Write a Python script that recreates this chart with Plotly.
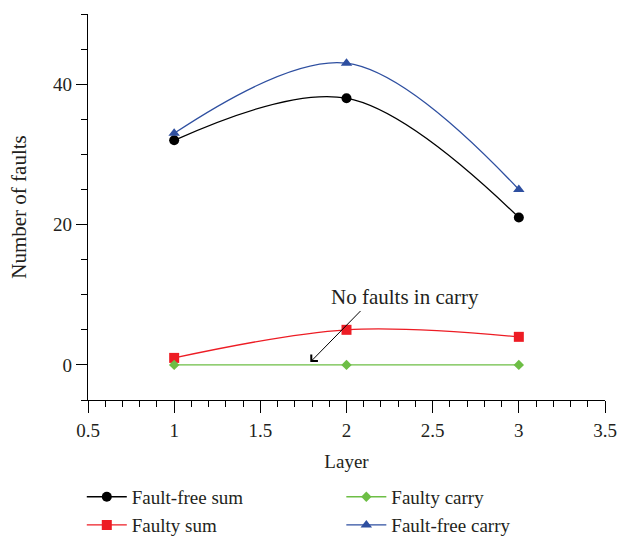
import plotly.graph_objects as go

layers = [1, 2, 3]
fault_free_sum = [32, 38, 21]
faulty_sum = [1, 5, 4]
faulty_carry = [0, 0, 0]
fault_free_carry = [33, 43, 25]

FONT = "Liberation Serif"
FS = 19
TXT = "#231F20"

fig = go.Figure()

series = [
    ("Fault-free sum", fault_free_sum, "#000000", "circle", 10, "legend"),
    ("Faulty sum", faulty_sum, "#ED1C24", "square", 10, "legend2"),
    ("Faulty carry", faulty_carry, "#6DBE45", "diamond", 8, "legend3"),
    ("Fault-free carry", fault_free_carry, "#2E4FA0", "triangle-up", 10, "legend4"),
]
for name, vals, col, sym, sz, lg in series:
    fig.add_trace(go.Scatter(
        x=layers, y=vals, name=name, mode="lines+markers",
        line=dict(color=col, width=1.3, shape="spline", smoothing=1),
        marker=dict(symbol=sym, size=sz, color=col),
        legend=lg, showlegend=True,
    ))

# annotation
fig.add_annotation(x=2.34, y=9.7, xref="x", yref="y", text="No faults in carry",
                   showarrow=False, font=dict(family=FONT, size=21, color=TXT))
fig.add_annotation(x=1.79, y=0.4, ax=2.09, ay=7.9, xref="x", yref="y",
                   axref="x", ayref="y", text="", showarrow=True,
                   arrowhead=4, arrowsize=1.8, arrowwidth=1, arrowcolor="#000")

leg_common = dict(font=dict(family=FONT, size=FS, color=TXT),
                  bgcolor="rgba(0,0,0,0)", xanchor="left", yanchor="middle",
                  orientation="v", visible=True, itemwidth=40)
fig.update_layout(
    width=634, height=539,
    margin=dict(l=88, r=29, t=14, b=139, autoexpand=False),
    plot_bgcolor="white", paper_bgcolor="white",
    showlegend=True,
    font=dict(family=FONT, size=FS, color=TXT),
    legend=dict(x=-0.012, y=-0.251, **leg_common),
    legend2=dict(x=-0.012, y=-0.324, **leg_common),
    legend3=dict(x=0.49, y=-0.251, **leg_common),
    legend4=dict(x=0.49, y=-0.324, **leg_common),
    xaxis=dict(range=[0.5, 3.5], tick0=0.5, dtick=0.5, ticks="outside",
               ticklen=12, tickwidth=1.3, tickcolor="#000",
               showline=True, linecolor="#000", linewidth=1.3,
               showgrid=False, zeroline=False, automargin=False,
               ticklabelstandoff=1,
               title=dict(text="Layer", font=dict(size=FS), standoff=14),
               tickfont=dict(size=FS),
               minor=dict(dtick=0.1, tick0=0.5, ticks="outside", ticklen=6,
                          tickwidth=1.3, tickcolor="#000", showgrid=False)),
    yaxis=dict(range=[-5, 50], tick0=0, dtick=20, ticks="outside",
               ticklen=11, tickwidth=1.3, tickcolor="#000",
               showline=True, linecolor="#000", linewidth=1.3,
               showgrid=False, zeroline=False, automargin=False,
               title=dict(text="Number of faults", font=dict(size=21), standoff=20),
               tickfont=dict(size=FS),
               minor=dict(dtick=5, tick0=0, ticks="outside", ticklen=6,
                          tickwidth=1.3, tickcolor="#000", showgrid=False)),
)

fig.write_html("out.html", config={"displayModeBar": False})

# remove default page margin so the figure sits at the window origin
with open("out.html", "r", encoding="utf-8") as f:
    html = f.read()
html = html.replace("<head>", "<head><style>html,body{margin:0;padding:0;overflow:hidden}</style>", 1)
with open("out.html", "w", encoding="utf-8") as f:
    f.write(html)
